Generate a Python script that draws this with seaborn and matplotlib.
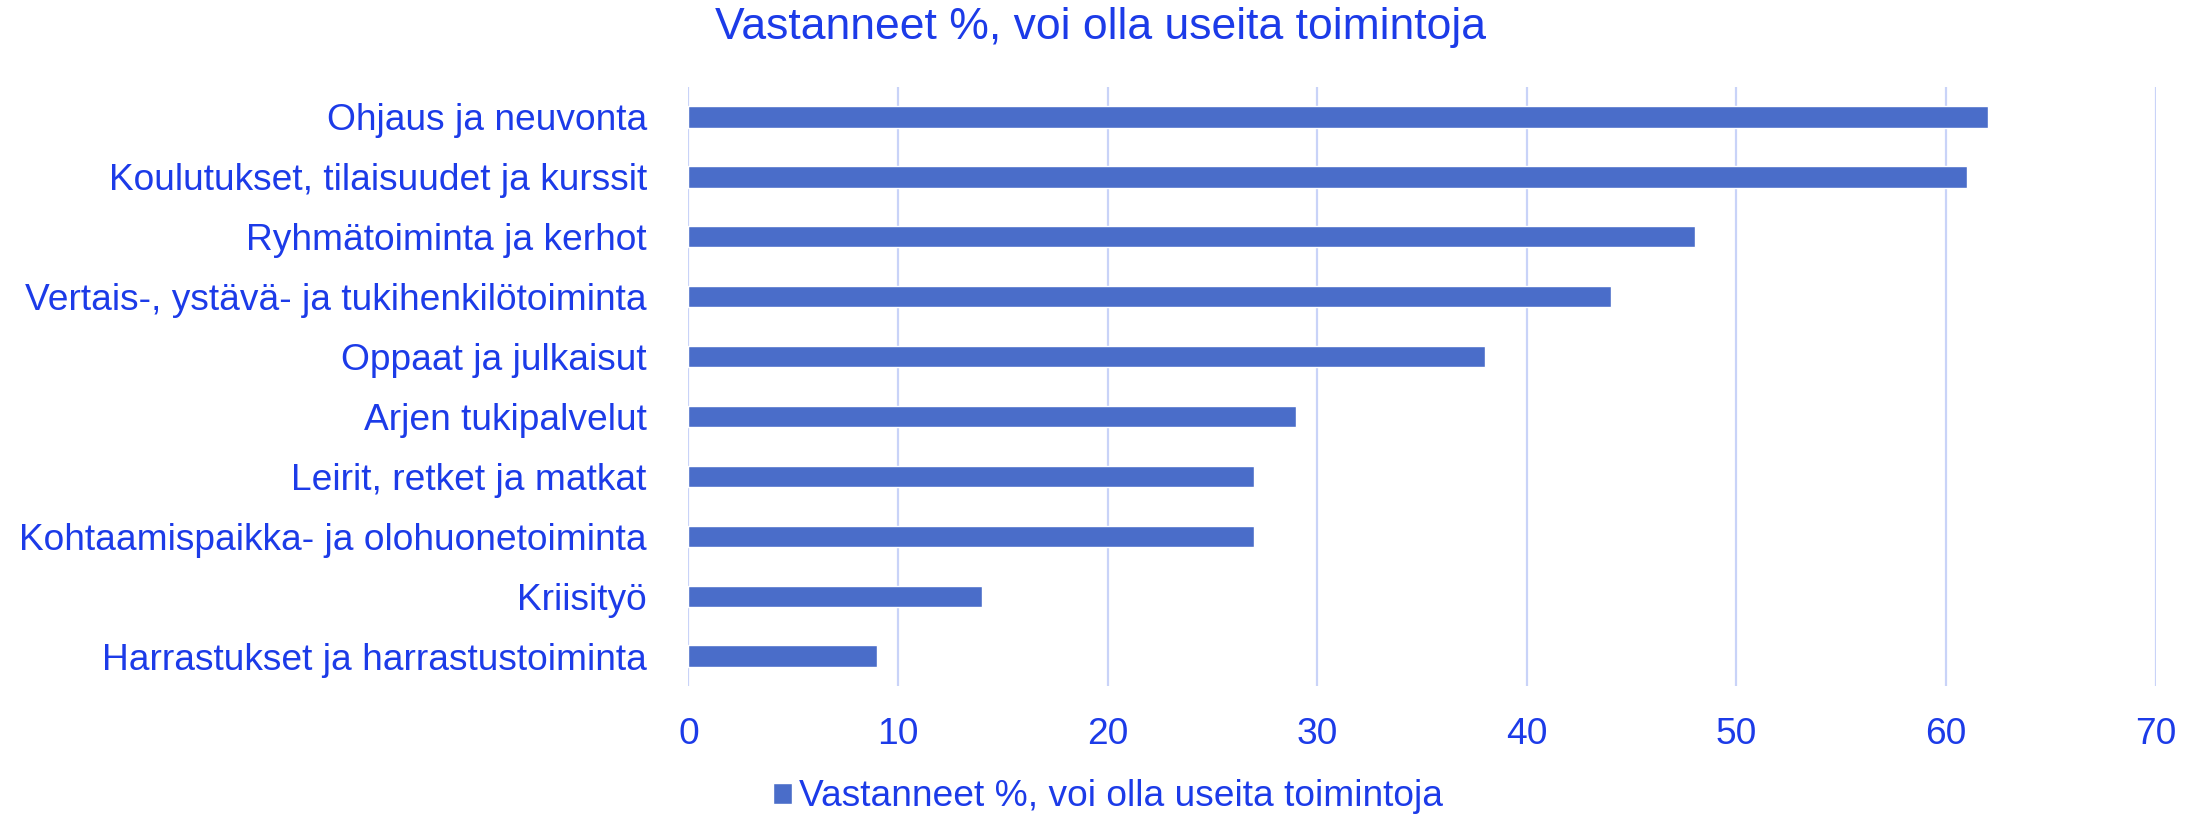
import pandas as pd
import matplotlib
matplotlib.use("Agg")
import matplotlib.pyplot as plt
import matplotlib.ticker as ticker
import seaborn as sns

# Data
categories = [
    "Ohjaus ja neuvonta",
    "Koulutukset, tilaisuudet ja kurssit",
    "Ryhmätoiminta ja kerhot",
    "Vertais-, ystävä- ja tukihenkilötoiminta",
    "Oppaat ja julkaisut",
    "Arjen tukipalvelut",
    "Leirit, retket ja matkat",
    "Kohtaamispaikka- ja olohuonetoiminta",
    "Kriisityö",
    "Harrastukset ja harrastustoiminta",
]
values = [62, 61, 48, 44, 38, 29, 27, 27, 14, 9]
series_name = "Vastanneet %, voi olla useita toimintoja"
x_ticks = [0, 10, 20, 30, 40, 50, 60, 70]

text_color = "#1C3BE8"
bar_color = "#4A6DC9"
grid_color = "#C9D3F8"

df = pd.DataFrame({"Toiminta": categories, "Osuus": values})

sns.set_theme(style="white")
plt.rcParams["font.family"] = ["Liberation Sans", "DejaVu Sans"]

fig = plt.figure(figsize=(22.01, 8.14), dpi=100)
ax = fig.add_axes([0.3128, 0.1572, 0.6666, 0.7359])

sns.barplot(data=df, x="Osuus", y="Toiminta", orient="h", color=bar_color,
            width=0.355, label=series_name, ax=ax, saturation=1)

#Axis setup
ax.set_xlim(0, 70)
ax.set_ylim(len(categories) - 0.5, -0.5)
ax.set_xticks(x_ticks)
ax.xaxis.set_major_formatter(ticker.FormatStrFormatter("%d"))
ax.set_xlabel("")
ax.set_ylabel("")
for side in ["top", "right", "bottom", "left"]:
    ax.spines[side].set_visible(False)
ax.grid(axis="x", color=grid_color, linewidth=1.6)
ax.grid(axis="y", visible=False)
ax.set_axisbelow(True)
ax.tick_params(axis="x", length=0, pad=22, labelsize=26.7, labelcolor=text_color)
ax.tick_params(axis="y", length=0, pad=30, labelsize=26.7, labelcolor=text_color)

#Title and legend (legend sits under the axes, centred on the figure)
fig.text(0.5, 1 - 28 / 814, series_name, ha="center", va="center",
         fontsize=32, color=text_color)
handles, labels = ax.get_legend_handles_labels()
if ax.get_legend() is not None:
    ax.get_legend().remove()
fig.legend(handles[:1], labels[:1], loc="center",
           bbox_to_anchor=(1108 / 2201, 1 - 797 / 814),
           frameon=False, fontsize=26.7, labelcolor=text_color,
           handlelength=0.5, handleheight=0.5, handletextpad=0.2,
           borderpad=0, borderaxespad=0)

fig.savefig("out.png", dpi=100, facecolor="white")
plt.close(fig)
